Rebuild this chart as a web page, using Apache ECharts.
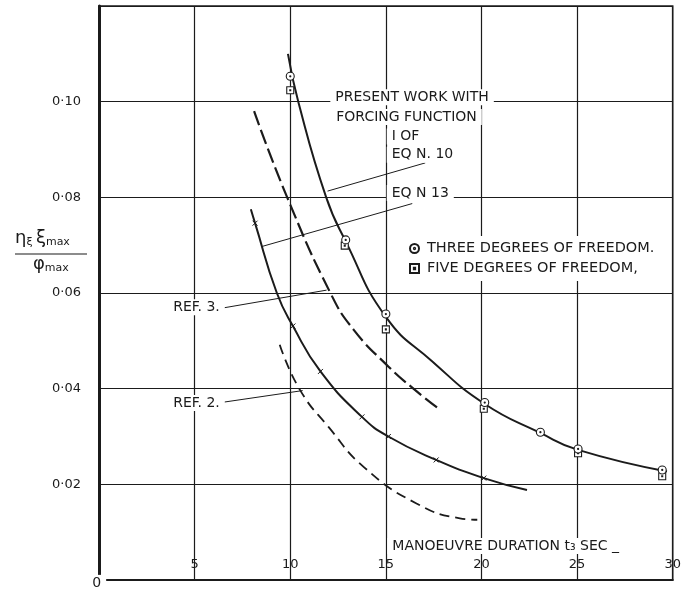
<!DOCTYPE html>
<html>
<head>
<meta charset="utf-8">
<script src="https://cdn.jsdelivr.net/npm/echarts@6/dist/echarts.min.js"></script>
<style>
  html, body { margin: 0; padding: 0; background: #fff; }
  #chart { width: 684px; height: 589px; }
</style>
</head>
<body>
<div id="chart"></div>
<script>
// axis ticks
const xTickLabels = ['', '5', '10', '15', '20', '25', '30'];          // 0..30 step 5
const yTickLabels = ['', '0·02', '0·04', '0·06', '0·08', '0·10', '']; // 0..0.12 step 0.02

// curves [t3 sec, value]
const eqn10 = [
  [9.88, 0.1100], [10.42, 0.1000], [11.88, 0.0800], [12.9, 0.0708],
  [15.0, 0.0550], [17.4, 0.0458], [20.17, 0.0368],
  [23.05, 0.0308], [25.05, 0.0272], [29.7, 0.0227]
];
const eqn13 = [
  [7.94, 0.0775], [8.16, 0.0746], [9.3, 0.0600], [10.14, 0.0531], [11.58, 0.0436],
  [13.75, 0.0341], [15.13, 0.0300], [17.63, 0.0251], [20.12, 0.0213], [22.38, 0.0188]
];
const eqn13Ticks = [1, 3, 4, 5, 6, 7, 8]; // indexes of eqn13 points carrying a tick
const ref3 = [
  [8.11, 0.0980], [9.84, 0.0800], [12.1, 0.0600], [13.32, 0.0523],
  [15.14, 0.0446], [16.44, 0.0400], [17.83, 0.0356]
];
const ref2 = [
  [9.45, 0.0492], [10.5, 0.0398], [12.0, 0.0320], [13.88, 0.0235],
  [16.6, 0.0160], [18.87, 0.0129], [19.78, 0.0126]
];
const threeDof = [
  [10.0, 0.1053], [12.9, 0.0711], [15.0, 0.0556], [20.17, 0.0371],
  [23.08, 0.0309], [25.05, 0.0274], [29.45, 0.0230]
];
const fiveDof = [
  [10.0, 0.1024], [12.85, 0.0699], [15.0, 0.0524], [20.12, 0.0358],
  [25.05, 0.0265], [29.45, 0.0217]
];

// annotations [x, y, text]
const notes = [
  [12.07, 0.1009, 'PRESENT WORK WITH'],
  [12.12, 0.0968, 'FORCING FUNCTION'],
  [15.02, 0.0927, 'I OF'],
  [15.02, 0.0889, 'EQ N. 10'],
  [15.02, 0.0809, 'EQ N 13'],
  [3.59, 0.0570, 'REF. 3.'],
  [3.59, 0.0370, 'REF. 2.'],
  [15.05, 0.0071, 'MANOEUVRE DURATION t₃ SEC _'],
  [-0.64, -0.0006, '0']
];
// leader arrows [[fromX, fromY], [toX, toY]]
const arrows = [
  [[17.06, 0.0872], [11.95, 0.0813]],
  [[16.38, 0.0787], [8.5, 0.0697]],
  [[6.38, 0.0568], [11.9, 0.0606]],
  [[6.38, 0.0371], [10.65, 0.0396]]
];

const INK = '#1b1b1b';
const FONT = 'DejaVu Sans';
const circleDot = 'path://M10,5A5,5,0,1,1,0,5A5,5,0,1,1,10,5ZM5.7,5A0.7,0.7,0,1,1,4.3,5A0.7,0.7,0,1,1,5.7,5Z';
const squareDot = 'path://M0,0L10,0L10,10L0,10ZM4.3,4.3L5.7,4.3L5.7,5.7L4.3,5.7Z';
const tickMark = 'path://M0,0L10,10M10,0L0,10';

const chart = echarts.init(document.getElementById('chart'));

const curve = (name, data, width, type) => ({
  name,
  type: 'line',
  data,
  smooth: 0.5,
  symbol: 'none',
  lineStyle: { color: INK, width, type },
  z: 3
});

const fraction = (text, left, top) => ({
  type: 'text',
  left,
  top,
  style: {
    text,
    fill: INK,
    rich: {
      m: { fontFamily: FONT, fontSize: 18, fill: INK },
      s: { fontFamily: FONT, fontSize: 11, fill: INK, padding: [8, 0, 0, 0] }
    }
  }
});

chart.setOption({
  animation: false,
  grid: { left: 99, right: 9, top: 6, bottom: 9, show: true, borderColor: INK, borderWidth: 1.5 },
  xAxis: {
    type: 'value',
    min: 0,
    max: 30,
    interval: 5,
    axisLine: { lineStyle: { color: INK, width: 2 } },
    axisTick: { show: false },
    axisLabel: {
      inside: true,
      margin: 9,
      color: INK,
      fontFamily: FONT,
      fontSize: 13,
      formatter: (v) => xTickLabels[Math.round(v / 5)]
    },
    splitLine: { lineStyle: { color: INK, width: 1.2 } }
  },
  yAxis: {
    type: 'value',
    min: 0,
    max: 0.12,
    interval: 0.02,
    axisLine: { show: true, lineStyle: { color: INK, width: 3 } },
    axisTick: { show: false },
    axisLabel: {
      margin: 18,
      color: INK,
      fontFamily: FONT,
      fontSize: 13,
      formatter: (v) => yTickLabels[Math.round(v / 0.02)]
    },
    splitLine: { lineStyle: { color: INK, width: 1.2 } }
  },
  legend: {
    orient: 'vertical',
    left: 403,
    top: 236,
    padding: [5, 6],
    itemGap: 5,
    itemWidth: 9,
    itemHeight: 9,
    backgroundColor: '#fff',
    textStyle: { color: INK, fontFamily: FONT, fontSize: 14.5, padding: [0, 0, 0, 3] },
    data: ['THREE DEGREES OF FREEDOM.', 'FIVE DEGREES OF FREEDOM,']
  },
  graphic: [
    fraction('{m|η}{s|ξ} {m|ξ}{s|max}', 15, 229),
    { type: 'line', shape: { x1: 15, y1: 254, x2: 87, y2: 254 }, style: { stroke: INK, lineWidth: 1.2 } },
    fraction('{m|φ}{s|max}', 33, 255)
  ],
  series: [
    curve('EQN 10', eqn10, 2, 'solid'),
    Object.assign(curve('EQN 13', eqn13, 2, 'solid'), {
      symbol: (v, p) => (eqn13Ticks.includes(p.dataIndex) ? tickMark : 'none'),
      symbolSize: 5,
      showAllSymbol: true,
      itemStyle: { color: 'none', borderColor: INK, borderWidth: 1 }
    }),
    curve('REF 3', ref3, 2.2, [15, 5]),
    curve('REF 2', ref2, 1.8, [10, 6]),
    {
      name: 'THREE DEGREES OF FREEDOM.',
      type: 'scatter',
      data: threeDof,
      symbol: circleDot,
      symbolSize: 8,
      itemStyle: { color: '#fff', borderColor: INK, borderWidth: 1.1, opacity: 1 },
      z: 5
    },
    {
      name: 'FIVE DEGREES OF FREEDOM,',
      type: 'scatter',
      data: fiveDof,
      symbol: squareDot,
      symbolSize: 7,
      itemStyle: { color: '#fff', borderColor: INK, borderWidth: 1.1, opacity: 1 },
      z: 4
    },
    {
      name: 'notes',
      type: 'scatter',
      clip: false,
      silent: true,
      symbolSize: 1,
      itemStyle: { color: 'rgba(0,0,0,0)', opacity: 1 },
      data: notes.map(([x, y, text]) => ({ value: [x, y], name: text })),
      label: {
        show: true,
        position: 'right',
        distance: 0,
        formatter: '{b}',
        color: INK,
        fontFamily: FONT,
        fontSize: 14,
        backgroundColor: '#fff',
        padding: [1, 5]
      },
      markLine: {
        silent: true,
        symbol: ['none', 'arrow'],
        symbolSize: [0, 7],
        label: { show: false },
        lineStyle: { color: INK, width: 1, type: 'solid', opacity: 1 },
        data: arrows.map(([a, b]) => [{ coord: a }, { coord: b }])
      },
      z: 6
    }
  ]
});
</script>
</body>
</html>
